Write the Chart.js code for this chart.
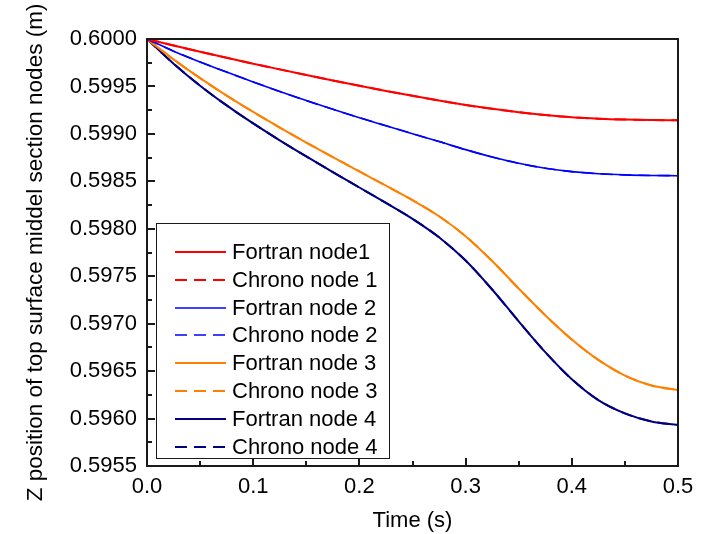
<!DOCTYPE html>
<html>
<head>
<meta charset="utf-8">
<script src="https://cdn.jsdelivr.net/npm/chart.js@4.4.1/dist/chart.umd.min.js"></script>
<style>
  html, body { margin: 0; padding: 0; background: #fff; }
  #wrap { width: 716px; height: 534px; }
</style>
</head>
<body>
<div id="wrap"><canvas id="chart"></canvas></div>
<script>
// ---------- data ----------
const timeS = [0, 0.025, 0.05, 0.075, 0.1, 0.125, 0.15, 0.175, 0.2, 0.225, 0.25,
               0.275, 0.3, 0.325, 0.35, 0.375, 0.4, 0.425, 0.45, 0.475, 0.5];

const fortranNode1 = [0.6, 0.599932, 0.599866, 0.599802, 0.59974, 0.59968, 0.599621, 0.599563,
                      0.599507, 0.599453, 0.599401, 0.599351, 0.599305, 0.599264, 0.599228,
                      0.599198, 0.599175, 0.59916, 0.599151, 0.599146, 0.599143];
const fortranNode2 = [0.6, 0.599872, 0.599758, 0.599651, 0.599547, 0.599447, 0.599351, 0.599259,
                      0.599171, 0.599086, 0.599002, 0.598919, 0.598834, 0.598756, 0.59869,
                      0.598638, 0.598602, 0.59858, 0.598568, 0.598562, 0.598559];
const fortranNode3 = [0.6, 0.599785, 0.599587, 0.599403, 0.599231, 0.599067, 0.598909, 0.598755,
                      0.598604, 0.598454, 0.598302, 0.598132, 0.597922, 0.59766, 0.59737,
                      0.597088, 0.596833, 0.596618, 0.596453, 0.596348, 0.596301];
const fortranNode4 = [0.6, 0.59974, 0.599508, 0.5993, 0.59911, 0.598932, 0.598762, 0.598597,
                      0.598435, 0.598273, 0.598105, 0.59791, 0.597665, 0.59736, 0.597025,
                      0.5967, 0.596415, 0.596195, 0.596055, 0.59597, 0.595932];

// Chrono curves lie on top of the Fortran ones in the picture
const chronoNode1 = fortranNode1.slice();
const chronoNode2 = fortranNode2.slice();
const chronoNode3 = fortranNode3.slice();
const chronoNode4 = fortranNode4.slice();

const xTicks = [0, 0.1, 0.2, 0.3, 0.4, 0.5];
const yTicks = [0.5955, 0.596, 0.5965, 0.597, 0.5975, 0.598, 0.5985, 0.599, 0.5995, 0.6];

const FONT = '"Liberation Sans", Arial, sans-serif';
const DASH = [12, 7];

const series = [
    { label: 'Fortran node1',  data: fortranNode1, color: '#ff0000', width: 2,   dash: [] },
    { label: 'Chrono node 1',  data: chronoNode1,  color: '#ff0000', width: 2,   dash: DASH },
    { label: 'Fortran node 2', data: fortranNode2, color: '#0000ff', width: 1.6, dash: [] },
    { label: 'Chrono node 2',  data: chronoNode2,  color: '#0000ff', width: 1.6, dash: DASH },
    { label: 'Fortran node 3', data: fortranNode3, color: '#ff8000', width: 2,   dash: [] },
    { label: 'Chrono node 3',  data: chronoNode3,  color: '#ff8000', width: 2,   dash: DASH },
    { label: 'Fortran node 4', data: fortranNode4, color: '#000080', width: 2,   dash: [] },
    { label: 'Chrono node 4',  data: chronoNode4,  color: '#000080', width: 2,   dash: DASH },
];

// ---------- frame + inward ticks ----------
const frameTicks = {
    id: 'frameTicks',
    afterDraw(chart) {
        const { ctx, chartArea: a, scales: { x, y } } = chart;
        ctx.save();
        ctx.strokeStyle = '#1a1a1a';
        ctx.lineWidth = 2;
        ctx.strokeRect(a.left, a.top, a.right - a.left, a.bottom - a.top);

        ctx.beginPath();
        xTicks.forEach((v, i) => {
            const px = Math.round(x.getPixelForValue(v));
            ctx.moveTo(px, a.bottom); ctx.lineTo(px, a.bottom - 8);
            if (i < xTicks.length - 1) {
                const mx = Math.round(x.getPixelForValue((v + xTicks[i + 1]) / 2));
                ctx.moveTo(mx, a.bottom); ctx.lineTo(mx, a.bottom - 5);
            }
        });
        yTicks.forEach((v, i) => {
            const py = Math.round(y.getPixelForValue(v));
            ctx.moveTo(a.left, py); ctx.lineTo(a.left + 8, py);
            if (i < yTicks.length - 1) {
                const my = Math.round(y.getPixelForValue((v + yTicks[i + 1]) / 2));
                ctx.moveTo(a.left, my); ctx.lineTo(a.left + 5, my);
            }
        });
        ctx.stroke();
        ctx.restore();
    }
};

// ---------- boxed legend inside the plot ----------
const boxLegend = {
    id: 'boxLegend',
    afterDraw(chart) {
        const { ctx, chartArea: a } = chart;
        const left = a.left + 9, right = a.left + 243;
        const top = a.bottom - 243, bottom = a.bottom - 7;
        ctx.save();
        ctx.fillStyle = '#fff';
        ctx.fillRect(left, top, right - left, bottom - top);
        ctx.strokeStyle = '#1a1a1a';
        ctx.lineWidth = 1;
        ctx.strokeRect(left + 0.5, top + 0.5, right - left - 1, bottom - top - 1);

        ctx.font = '22px ' + FONT;
        ctx.textBaseline = 'middle';
        ctx.textAlign = 'left';
        chart.data.datasets.forEach((ds, i) => {
            const cy = Math.round(top + 29 + i * 27.8);
            ctx.strokeStyle = ds.borderColor;
            ctx.lineWidth = ds.borderWidth;
            ctx.setLineDash(ds.borderDash);
            ctx.beginPath();
            ctx.moveTo(left + 19, cy);
            ctx.lineTo(left + 70, cy);
            ctx.stroke();
            ctx.setLineDash([]);
            ctx.fillStyle = '#000';
            ctx.fillText(ds.label, left + 76, cy + 1);
        });
        ctx.restore();
    }
};

// ---------- chart ----------
const ctx = document.getElementById('chart').getContext('2d');

new Chart(ctx, {
    type: 'line',
    data: {
        datasets: series.map(s => ({
            label: s.label,
            data: timeS.map((t, i) => ({ x: t, y: s.data[i] })),
            borderColor: s.color,
            borderWidth: s.width,
            borderDash: s.dash,
            pointRadius: 0,
            fill: false,
            cubicInterpolationMode: 'monotone',
        }))
    },
    options: {
        responsive: true,
        maintainAspectRatio: false,
        animation: false,
        layout: { padding: { top: 39, right: 38, bottom: 0, left: 0 } },
        plugins: {
            legend: { display: false },
            tooltip: { enabled: false }
        },
        scales: {
            x: {
                type: 'linear',
                min: 0,
                max: 0.5,
                afterBuildTicks: s => { s.ticks = xTicks.map(v => ({ value: v })); },
                afterFit: s => { s.height = 68; },
                ticks: {
                    color: '#000',
                    padding: 8,
                    maxRotation: 0,
                    font: { family: FONT, size: 22 },
                    callback: v => Number(v).toFixed(1)
                },
                grid: { display: false, drawTicks: false },
                border: { display: false },
                title: {
                    display: true,
                    text: 'Time (s)',
                    color: '#000',
                    font: { family: FONT, size: 22 },
                    padding: 0
                }
            },
            y: {
                type: 'linear',
                min: 0.5955,
                max: 0.6,
                afterBuildTicks: s => { s.ticks = yTicks.map(v => ({ value: v })); },
                afterFit: s => { s.width = 147; },
                ticks: {
                    color: '#000',
                    padding: 10,
                    font: { family: FONT, size: 22 },
                    callback: v => Number(v).toFixed(4)
                },
                grid: { display: false, drawTicks: false },
                border: { display: false },
                title: {
                    display: true,
                    text: 'Z position of top surface middel section nodes (m)',
                    color: '#000',
                    font: { family: FONT, size: 22.5 },
                    padding: { top: 22, bottom: 0 }
                }
            }
        }
    },
    plugins: [frameTicks, boxLegend]
});
</script>
</body>
</html>
